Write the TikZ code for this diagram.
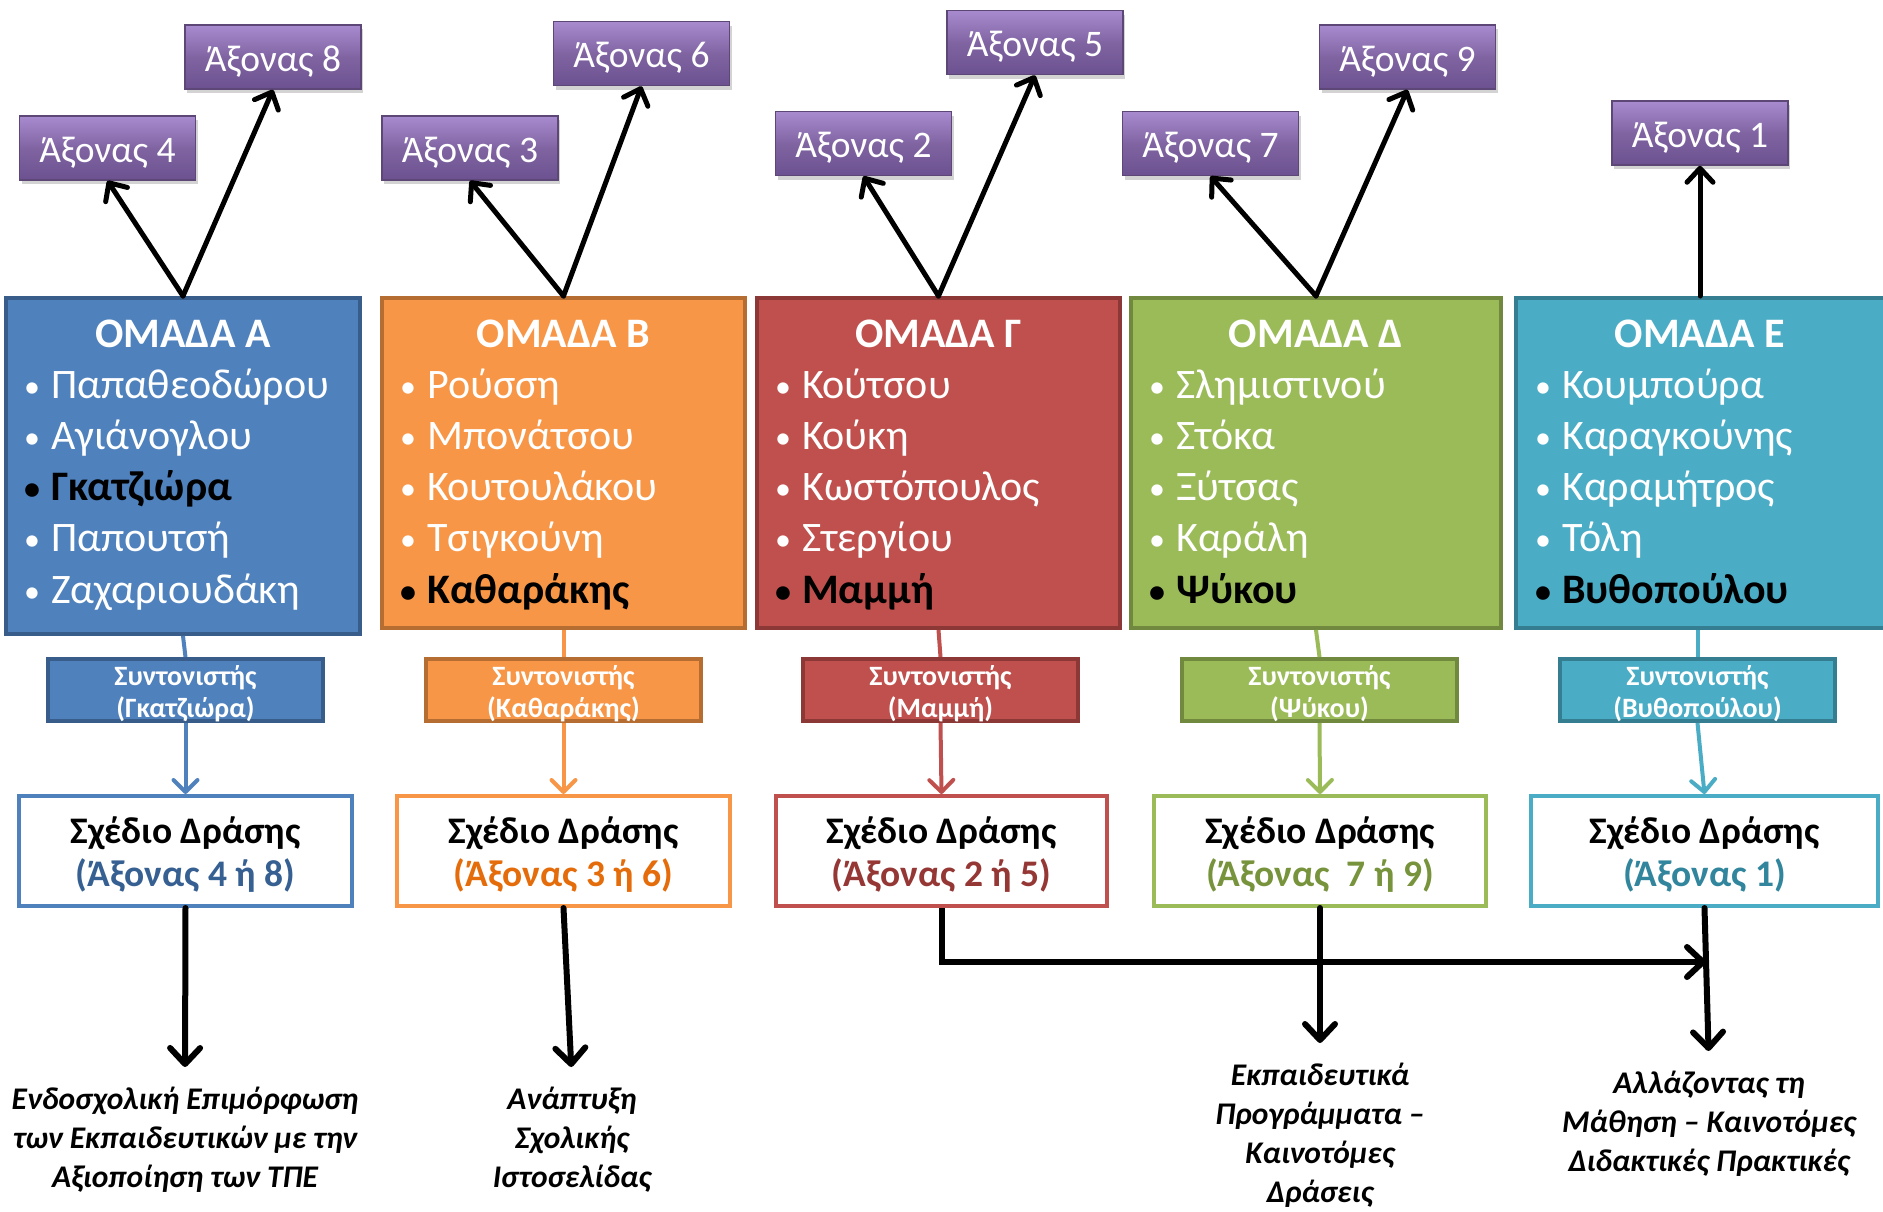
\documentclass[tikz,border=0pt]{standalone}
\usepackage{fontspec}
\setmainfont{Carlito}
\usetikzlibrary{arrows.meta,shadows,calc}
\definecolor{blueF}{HTML}{4F81BD}\definecolor{blueD}{HTML}{385D8A}\definecolor{blueT}{HTML}{376092}
\definecolor{orangeF}{HTML}{F79646}\definecolor{orangeD}{HTML}{B66D31}\definecolor{orangeT}{HTML}{E46C0A}
\definecolor{redF}{HTML}{C0504D}\definecolor{redD}{HTML}{8C3836}\definecolor{redT}{HTML}{953735}
\definecolor{greenF}{HTML}{9BBB59}\definecolor{greenD}{HTML}{71893F}\definecolor{greenT}{HTML}{77933C}
\definecolor{tealF}{HTML}{4BACC6}\definecolor{tealD}{HTML}{357D91}\definecolor{tealT}{HTML}{31859C}
\definecolor{purpL}{HTML}{A88BCF}\definecolor{purpM}{HTML}{8064A2}\definecolor{purpB}{HTML}{6C5190}\definecolor{purpD}{HTML}{5C4776}
\newcommand{\bul}{\llap{\makebox[38pt][c]{\raisebox{1pt}{\fontsize{32}{32}\selectfont•}}}}
\begin{document}
\begin{tikzpicture}[x=1pt,y=-1pt,
  gbox/.style={rectangle,line width=4pt,inner sep=0pt},
  gtitle/.style={anchor=base,inner sep=0pt,text=white,font=\fontsize{42}{48}\selectfont\bfseries},
  gitem/.style={anchor=base west,inner sep=0pt,text=white,font=\fontsize{42}{48}\selectfont},
  gbold/.style={gitem,text=black,font=\fontsize{42}{48}\selectfont\bfseries},
  pbox/.style={rectangle,draw=purpD,line width=1.5pt,top color=purpL,bottom color=purpB,middle color=purpM,
    minimum width=176pt,minimum height=64pt,inner sep=0pt,text=white,
    text height=33pt,text depth=5pt,font=\fontsize{37.5}{40}\selectfont,
    drop shadow={shadow xshift=2pt,shadow yshift=-4pt,opacity=0.35}},
  cbox/.style={rectangle,line width=4pt,minimum width=275pt,minimum height=62pt,inner sep=0pt},
  ctext/.style={anchor=base,inner sep=0pt,text=white,font=\fontsize{28}{32}\selectfont\bfseries},
  sbox/.style={rectangle,line width=4pt,fill=white,minimum height=110pt,inner sep=0pt},
  stext/.style={anchor=base,inner sep=0pt,font=\fontsize{37.5}{42}\selectfont\bfseries},
  lab/.style={anchor=north,inner sep=0pt,align=center,font=\fontsize{31.5}{39}\selectfont\bfseries\itshape},
  toparrow/.style={line width=5pt,black,line cap=round,-{Straight Barb[length=14pt,width=26pt,round]}},
  cline/.style={line width=4pt},
  carrow/.style={line width=4pt,-{Straight Barb[length=12pt,width=24pt,round]}},
  botarrow/.style={line width=6pt,black,line cap=round,-{Straight Barb[length=16pt,width=30pt,round]},shorten >=15pt}
]
\useasboundingbox (0,0) rectangle (1883,1211);

% purple axis boxes
\node[pbox] (p8) at (273,57) {Άξονας 8};
\node[pbox] (p4) at (107.5,148) {Άξονας 4};
\node[pbox] (p3) at (470,148) {Άξονας 3};
\node[pbox] (p6) at (641.5,53.5) {Άξονας 6};
\node[pbox] (p2) at (863.5,143.5) {Άξονας 2};
\node[pbox] (p5) at (1035,42.5) {Άξονας 5};
\node[pbox] (p7) at (1210.5,143.5) {Άξονας 7};
\node[pbox] (p9) at (1407.5,57) {Άξονας 9};
\node[pbox] (p1) at (1700,133) {Άξονας 1};

% group boxes
\node[gbox,fill=blueF,draw=blueD,minimum width=354pt,minimum height=336pt] (gA) at (183,466) {};
\node[gbox,fill=orangeF,draw=orangeD,minimum width=363pt,minimum height=330pt] (gB) at (563.5,463) {};
\node[gbox,fill=redF,draw=redD,minimum width=363pt,minimum height=330pt] (gC) at (938.5,463) {};
\node[gbox,fill=greenF,draw=greenD,minimum width=370pt,minimum height=330pt] (gD) at (1316,463) {};
\node[gbox,fill=tealF,draw=tealD,minimum width=380pt,minimum height=330pt] (gE) at (1706,463) {};

% group texts
\node[gtitle] (tA) at (183,347) {ΟΜΑΔΑ Α};
\node[gitem] (a1) at (51,398) {\bul Παπαθεοδώρου};
\node[gitem] (a2) at (51,449) {\bul Αγιάνογλου};
\node[gbold] (a3) at (51,500) {\bul Γκατζιώρα};
\node[gitem] (a4) at (51,551) {\bul Παπουτσή};
\node[gitem] (a5) at (51,603) {\bul Ζαχαριουδάκη};

\node[gtitle] (tB) at (563.5,347) {ΟΜΑΔΑ Β};
\node[gitem] (b1) at (427,398) {\bul Ρούσση};
\node[gitem] (b2) at (427,449) {\bul Μπονάτσου};
\node[gitem] (b3) at (427,500) {\bul Κουτουλάκου};
\node[gitem] (b4) at (427,551) {\bul Τσιγκούνη};
\node[gbold] (b5) at (427,603) {\bul Καθαράκης};

\node[gtitle] (tC) at (938.5,347) {ΟΜΑΔΑ Γ};
\node[gitem] (c1) at (802,398) {\bul Κούτσου};
\node[gitem] (c2) at (802,449) {\bul Κούκη};
\node[gitem] (c3) at (802,500) {\bul Κωστόπουλος};
\node[gitem] (c4) at (802,551) {\bul Στεργίου};
\node[gbold] (c5) at (802,603) {\bul Μαμμή};

\node[gtitle] (tD) at (1316,347) {ΟΜΑΔΑ Δ};
\node[gitem] (d1) at (1176,398) {\bul Σλημιστινού};
\node[gitem] (d2) at (1176,449) {\bul Στόκα};
\node[gitem] (d3) at (1176,500) {\bul Ξύτσας};
\node[gitem] (d4) at (1176,551) {\bul Καράλη};
\node[gbold] (d5) at (1176,603) {\bul Ψύκου};

\node[gtitle] (tE) at (1700,347) {ΟΜΑΔΑ Ε};
\node[gitem] (e1) at (1562,398) {\bul Κουμπούρα};
\node[gitem] (e2) at (1562,449) {\bul Καραγκούνης};
\node[gitem] (e3) at (1562,500) {\bul Καραμήτρος};
\node[gitem] (e4) at (1562,551) {\bul Τόλη};
\node[gbold] (e5) at (1562,603) {\bul Βυθοπούλου};

% top arrows
\draw[toparrow] (gA.north) -- (p4.south);
\draw[toparrow] (gA.north) -- (p8.south);
\draw[toparrow] (gB.north) -- (p3.south);
\draw[toparrow] (gB.north) -- (p6.south);
\draw[toparrow] (gC.north) -- (p2.south);
\draw[toparrow] (gC.north) -- (p5.south);
\draw[toparrow] (gD.north) -- (p7.south);
\draw[toparrow] (gD.north) -- (p9.south);
\draw[toparrow] (p1.south |- gE.north) -- (p1.south);

% coordinator boxes
\node[cbox,fill=blueF,draw=blueD] (kA) at (185.5,690) {};
\node[cbox,fill=orangeF,draw=orangeD] (kB) at (563.5,690) {};
\node[cbox,fill=redF,draw=redD] (kC) at (940.5,690) {};
\node[cbox,fill=greenF,draw=greenD] (kD) at (1319.5,690) {};
\node[cbox,fill=tealF,draw=tealD] (kE) at (1697.5,690) {};
\node[ctext] at (185.5,685) {Συντονιστής};  \node[ctext] at (185.5,717) {(Γκατζιώρα)};
\node[ctext] at (563.5,685) {Συντονιστής};  \node[ctext] at (563.5,717) {(Καθαράκης)};
\node[ctext] at (940.5,685) {Συντονιστής};  \node[ctext] at (940.5,717) {(Μαμμή)};
\node[ctext] at (1319.5,685) {Συντονιστής}; \node[ctext] at (1319.5,717) {(Ψύκου)};
\node[ctext] at (1697.5,685) {Συντονιστής}; \node[ctext] at (1697.5,717) {(Βυθοπούλου)};

% plan boxes
\node[sbox,draw=blueF,minimum width=333pt] (sA) at (185.5,851) {};
\node[sbox,draw=orangeF,minimum width=333pt] (sB) at (563.5,851) {};
\node[sbox,draw=redF,minimum width=331pt] (sC) at (941.5,851) {};
\node[sbox,draw=greenF,minimum width=332pt] (sD) at (1320,851) {};
\node[sbox,draw=tealF,minimum width=347pt] (sE) at (1704.5,851) {};
\node[stext] at (185.5,843) {Σχέδιο Δράσης};  \node[stext,text=blueT] at (185.5,886) {(Άξονας 4 ή 8)};
\node[stext] at (563.5,843) {Σχέδιο Δράσης};  \node[stext,text=orangeT] at (563.5,886) {(Άξονας 3 ή 6)};
\node[stext] at (941.5,843) {Σχέδιο Δράσης};  \node[stext,text=redT] at (941.5,886) {(Άξονας 2 ή 5)};
\node[stext] at (1320,843) {Σχέδιο Δράσης};   \node[stext,text=greenT] at (1320,886) {(Άξονας\ \ 7 ή 9)};
\node[stext] at (1704.5,843) {Σχέδιο Δράσης}; \node[stext,text=tealT] at (1704.5,886) {(Άξονας 1)};

% coloured connectors
\draw[cline,blueF] (gA.south) -- (kA.north);
\draw[cline,orangeF] (gB.south) -- (kB.north);
\draw[cline,redF] (gC.south) -- (kC.north);
\draw[cline,greenF] (gD.south) -- (kD.north);
\draw[cline,tealF] (kE.north |- gE.south) -- (kE.north);
\draw[carrow,blueF] (kA.south) -- (sA.north);
\draw[carrow,orangeF] (kB.south) -- (sB.north);
\draw[carrow,redF] (kC.south) -- (sC.north);
\draw[carrow,greenF] (kD.south) -- (sD.north);
\draw[carrow,tealF] (kE.south) -- (sE.north);

% bottom labels
\node[lab] (lA) at (185,1082) {\strut Ενδοσχολική Επιμόρφωση\\των Εκπαιδευτικών με την\\Αξιοποίηση των ΤΠΕ};
\node[lab] (lB) at (572,1082) {\strut Ανάπτυξη\\Σχολικής\\Ιστοσελίδας};
\node[lab] (lD) at (1320,1058) {\strut Εκπαιδευτικά\\Προγράμματα –\\Καινοτόμες\\Δράσεις};
\node[lab] (lE) at (1709,1066) {\strut Αλλάζοντας τη\\Μάθηση – Καινοτόμες\\Διδακτικές Πρακτικές};

% bottom arrows
\coordinate (jE) at (1706,962);
\draw[botarrow] (sA.south) -- (lA.north);
\draw[botarrow] (sB.south) -- (lB.north);
\draw[botarrow] (sD.south) -- (lD.north);
\draw[botarrow] (sE.south) -- (lE.north);
\draw[botarrow,shorten >=0pt,line cap=butt] (sC.south) |- (jE);
\end{tikzpicture}
\end{document}
